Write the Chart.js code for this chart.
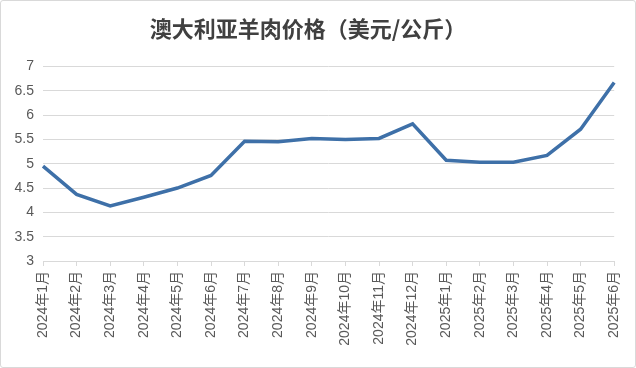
<!DOCTYPE html>
<html>
<head>
<meta charset="utf-8">
<script src="https://cdn.jsdelivr.net/npm/chart.js@4"></script>
<style>
    html, body { margin: 0; padding: 0; background: #fff; }
    #wrap { position: relative; width: 636px; height: 368px; }
    #frame {
        position: absolute; left: 0; top: 0; right: 0; bottom: 0;
        border: 1px solid #d9d9d9; border-radius: 3px; pointer-events: none;
    }
</style>
</head>
<body>
<div id="wrap">
    <canvas id="chart" width="636" height="368"></canvas>
    <div id="frame"></div>
</div>
<script>
// Data
const months = [
    '2024年1月', '2024年2月', '2024年3月', '2024年4月', '2024年5月', '2024年6月',
    '2024年7月', '2024年8月', '2024年9月', '2024年10月', '2024年11月', '2024年12月',
    '2025年1月', '2025年2月', '2025年3月', '2025年4月', '2025年5月', '2025年6月'
];
const prices = [
    4.95, 4.37, 4.13, 4.31, 4.50, 4.76,
    5.46, 5.45, 5.52, 5.50, 5.52, 5.82,
    5.07, 5.03, 5.03, 5.17, 5.71, 6.67
];
const yTicks = [3, 3.5, 4, 4.5, 5, 5.5, 6, 6.5, 7];

const textColor = '#595959';
const gridColor = '#d9d9d9';
const lineColor = '#3e70a8';
const labelFont = "'Liberation Sans', 'Noto Sans CJK SC', sans-serif";

const ctx = document.getElementById('chart').getContext('2d');
new Chart(ctx, {
    type: 'line',
    data: {
        labels: months,
        datasets: [{
            label: '价格',
            data: prices,
            borderColor: lineColor,
            borderWidth: 3.5,
            pointRadius: 0,
            tension: 0,
            fill: false
        }]
    },
    options: {
        responsive: false,
        animation: false,
        layout: {
            padding: { left: 0, right: 20, top: 0, bottom: 0 }
        },
        plugins: {
            legend: { display: false },
            tooltip: { enabled: false },
            title: {
                display: true,
                text: '澳大利亚羊肉价格（美元/公斤）',
                color: '#404040',
                font: { family: "'Noto Sans CJK SC', sans-serif", size: 22, weight: 'bold' },
                padding: { top: 15, bottom: 25 }
            }
        },
        scales: {
            x: {
                offset: false,
                grid: {
                    drawOnChartArea: false,
                    drawTicks: true,
                    tickLength: 5,
                    color: gridColor
                },
                border: { display: true, color: gridColor },
                ticks: {
                    autoSkip: false,
                    minRotation: 90,
                    maxRotation: 90,
                    padding: 5,
                    color: textColor,
                    font: { family: labelFont, size: 14 }
                },
                afterFit: (scale) => { scale.height = 107; }
            },
            y: {
                min: 3,
                max: 7,
                afterBuildTicks: (scale) => {
                    scale.ticks = yTicks.map(v => ({ value: v }));
                },
                grid: { color: gridColor, drawTicks: false },
                border: { display: false },
                ticks: {
                    padding: 9,
                    color: textColor,
                    font: { family: labelFont, size: 14 },
                    callback: (value) => String(value)
                },
                afterFit: (scale) => { scale.width = 43; }
            }
        }
    }
});
</script>
</body>
</html>
